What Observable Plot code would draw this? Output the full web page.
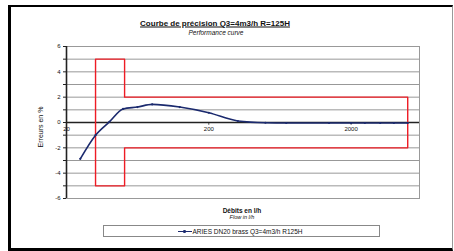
<!DOCTYPE html>
<html>
<head>
<meta charset="utf-8">
<script src="https://cdn.jsdelivr.net/npm/d3@7"></script>
<script src="https://cdn.jsdelivr.net/npm/@observablehq/plot@0.6"></script>
<style>
  html, body { margin: 0; padding: 0; background: #fff; }
  body { width: 454px; height: 251px; overflow: hidden; font-family: "Liberation Sans", Arial, sans-serif; }
  #wrap { position: relative; width: 454px; height: 251px; }
  #outer { position: absolute; left: 8px; top: 5px; width: 441px; height: 241px;
           border-left: 3px solid #000; border-top: 2px solid #000; border-bottom: 3px solid #000; border-right: 1px solid #999; }
  .t { position: absolute; white-space: nowrap; color: #111; transform: translate(-50%, -50%); }
  #title { left: 215px; top: 23px; font-size: 8px; font-weight: bold; text-decoration: underline; }
  #subtitle { left: 216px; top: 32px; font-size: 6.5px; font-style: italic; }
  #xlab { left: 242px; top: 209.5px; font-size: 6.5px; font-weight: bold; }
  #xlab2 { left: 242px; top: 217px; font-size: 5.5px; font-style: italic; }
  #ylab { left: 40px; top: 127px; font-size: 7px; transform: translate(-50%, -50%) rotate(-90deg); }
  #legend { position: absolute; left: 102.5px; top: 225px; width: 275px; height: 10px; border: 1px solid #888; box-sizing: content-box; }
  #legsw { position: absolute; left: 74px; top: 4.5px; width: 14px; height: 1.6px; background: #1b2a6e; }
  #legdot { position: absolute; left: 79.5px; top: 4px; width: 2.6px; height: 2.6px; border-radius: 50%; background: #1b2a6e; }
  #legtxt { position: absolute; left: 89px; top: 0.5px; font-size: 6.5px; line-height: 9px; color: #111; white-space: nowrap; }
  #chart { position: absolute; left: 0; top: 0; }
</style>
</head>
<body>
<div id="wrap">
  <div id="outer"></div>
  <div id="chart"></div>
  <div class="t" id="title">Courbe de précision Q3=4m3/h R=125H</div>
  <div class="t" id="subtitle">Performance curve</div>
  <div class="t" id="xlab">Débits en l/h</div>
  <div class="t" id="xlab2">Flow in l/h</div>
  <div class="t" id="ylab">Erreurs en %</div>
  <div id="legend"><div id="legsw"></div><div id="legdot"></div><div id="legtxt">ARIES DN20 brass Q3=4m3/h R125H</div></div>
</div>
<script>
// Measured curve (flow l/h, error %)
const flows  = [25, 32, 40, 50, 63, 80, 125, 200, 320, 500, 700, 1400, 2000, 2500, 3200, 4000, 5000];
const errors = [-2.87, -1.0, 0.05, 1.07, 1.22, 1.43, 1.22, 0.77, 0.12, -0.02, -0.04, -0.04, -0.04, -0.04, -0.04, -0.04, -0.04];

// Tolerance envelope (Q1=32, Q2=51.2, Q4=5000 l/h ; ±5 % / ±2 %)
const envFlow = [32, 32, 51.2, 51.2, 5000, 5000, 51.2, 51.2, 32];
const envErr  = [-5, 5, 5, 2, 2, -2, -2, -5, -5];

// Axes
const xDomain = [20, 6050];
const yDomain = [-6, 6];
const xTicks = [20, 200, 2000];
const yTicks = [-6, -4, -2, 0, 2, 4, 6];
const yGrid  = [-6, -5, -4, -3, -2, -1, 0, 1, 2, 3, 4, 5, 6];

const navy = "#1b2a6e";

const chart = Plot.plot({
  width: 454, height: 251,
  marginLeft: 66, marginRight: 35, marginTop: 46, marginBottom: 53,
  style: { fontFamily: "Liberation Sans, Arial, sans-serif", fontSize: "6px", background: "transparent", overflow: "visible", color: "#111" },
  x: { type: "log", domain: xDomain, axis: null },
  y: { domain: yDomain, axis: null },
  marks: [
    Plot.ruleY(yGrid, { stroke: "#8c8c8c", strokeWidth: 0.9 }),
    Plot.frame({ stroke: "#999" }),
    Plot.axisY({ ticks: yGrid, tickFormat: d => yTicks.includes(d) ? String(d) : "", tickSize: 3, tickPadding: 3, stroke: "#222", fontSize: 6, label: null }),
    Plot.ruleX([xDomain[0]], { stroke: "#222", strokeWidth: 1.6 }),
    Plot.ruleY([0], { stroke: "#222", strokeWidth: 1.6 }),
    Plot.ruleX(xTicks.slice(1), { x: d => d, y1: 0, y2: -0.22, stroke: "#222", strokeWidth: 0.8 }),
    Plot.text(xTicks, { x: d => d, y: 0, dy: 7, text: d => String(d), fontSize: 6, fill: "#111" }),
    Plot.line(envFlow, { x: envFlow, y: envErr, stroke: "#ee1c25", strokeWidth: 1.4 }),
    Plot.line(flows, { x: flows, y: errors, curve: "monotone-x", stroke: navy, strokeWidth: 1.6 }),
    Plot.dot(flows, { x: flows, y: errors, r: 1.1, fill: navy, stroke: "none" })
  ]
});
document.getElementById("chart").appendChild(chart);
</script>
</body>
</html>
